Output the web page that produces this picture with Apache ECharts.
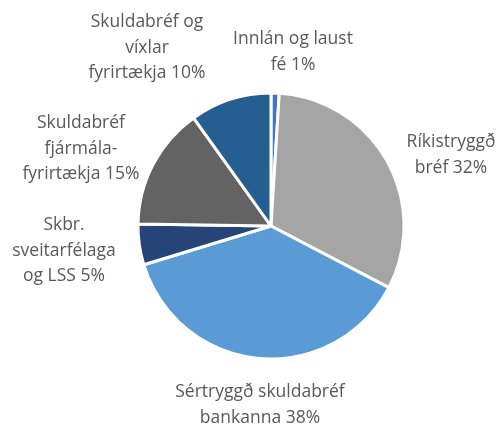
<!DOCTYPE html>
<html>
<head>
<meta charset="utf-8">
<script src="https://cdn.jsdelivr.net/npm/echarts@6/dist/echarts.min.js"></script>
<style>
  html, body { margin: 0; padding: 0; background: #fff; }
  #chart { width: 497px; height: 427px; }
</style>
</head>
<body>
<div id="chart"></div>
<script>
// Asset classes, clockwise from twelve o'clock (line breaks as shown on the labels)
var categories = [
  'Innlán og laust\nfé',
  'Ríkistryggð\nbréf',
  'Sértryggð skuldabréf\nbankanna',
  'Skbr.\nsveitarfélaga\nog LSS',
  'Skuldabréf\nfjármála-\nfyrirtækja',
  'Skuldabréf og\nvíxlar\nfyrirtækja'
];
// Share of portfolio, %
var shares = [1, 32, 38, 5, 15, 10];

var colors = ['#4472C4', '#A5A5A5', '#5B9BD5', '#264478', '#636363', '#255E91'];

// Centre points of each label block, in pixels
var labelSpots = [
  [293, 52],
  [451, 155],
  [260, 405],
  [64, 251],
  [81, 149],
  [147, 48]
];

var chart = echarts.init(document.getElementById('chart'), null, { renderer: 'canvas' });

chart.setOption({
  animation: false,
  backgroundColor: '#ffffff',
  series: [{
    type: 'pie',
    center: [271, 226],
    radius: [0, 133],
    startAngle: 90,
    clockwise: true,
    avoidLabelOverlap: false,
    itemStyle: { borderColor: '#ffffff', borderWidth: 3 },
    label: {
      show: true,
      position: 'outside',
      formatter: function (p) { return p.name + ' ' + p.value + '%'; },
      fontFamily: 'Open Sans',
      fontSize: 17.5,
      lineHeight: 25.5,
      color: '#595959',
      align: 'center'
    },
    labelLine: { show: false },
    labelLayout: function (p) {
      var s = labelSpots[p.dataIndex];
      return { x: s[0], y: s[1], align: 'center', verticalAlign: 'middle' };
    },
    emphasis: { disabled: true },
    data: categories.map(function (c, i) {
      return { name: c, value: shares[i], itemStyle: { color: colors[i] } };
    })
  }]
});
</script>
</body>
</html>
